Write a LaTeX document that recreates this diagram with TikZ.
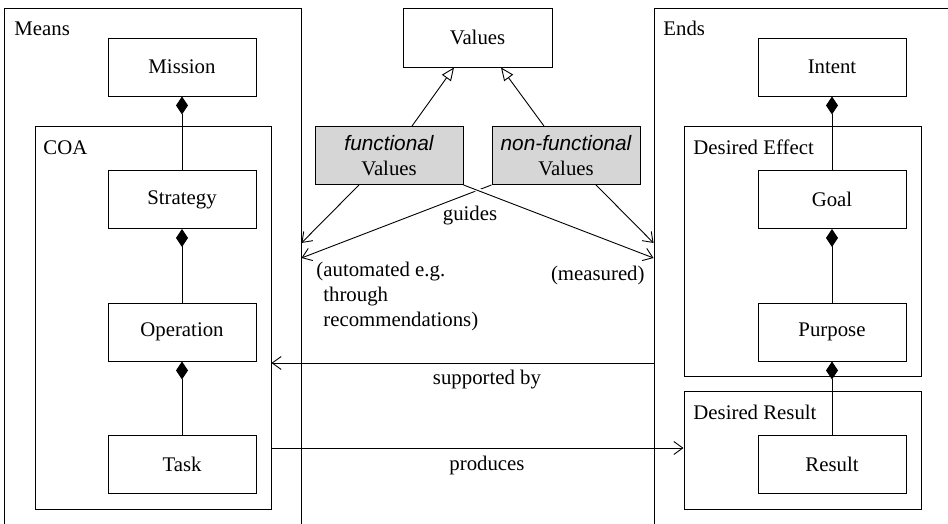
\documentclass[tikz,border=0pt]{standalone}
\usepackage{fontspec}
\setmainfont{Liberation Serif}
\newfontfamily\uisans{Liberation Sans}
\usetikzlibrary{arrows.meta,% arrow tips (diamond, open triangle, barb)
shapes}
\tikzset{every node/.style={font=\fontsize{20.8}{25}\selectfont}}
\definecolor{valgray}{RGB}{214,214,214}

\begin{document}
\begin{tikzpicture}[x=1pt,y=-1pt,line width=0.9pt,
  box/.style={draw, minimum width=148pt, minimum height=58pt, inner sep=0pt},
  valbox/.style={box, fill=valgray, align=center},
  frame/.style={draw, inner sep=0pt},
  lbl/.style={anchor=base west, inner sep=0pt},
  comp/.style={{Diamond[length=18pt,width=12pt]}-},
  isa/.style={-{Triangle[open,length=13pt,width=11pt]}},
  assoc/.style={-{Straight Barb[length=9pt,width=13pt]}}]
  \useasboundingbox (0,0) rectangle (948,524);
  % containers
  \node[frame, minimum width=297pt, minimum height=522pt] (means) at (152.5,269) {};
  \node[frame, minimum width=236pt, minimum height=383pt] (coa) at (153,317.5) {};
  \node[frame, minimum width=306pt, minimum height=522pt] (ends) at (807,269) {};
  \node[frame, minimum width=237pt, minimum height=250pt] (deseffect) at (802.5,251) {};
  \node[frame, minimum width=237pt, minimum height=118pt] (desresult) at (802.5,450) {};
  \node[lbl] (meanslbl) at (14,36) {Means};
  \node[lbl] (coalbl) at (43,154) {COA};
  \node[lbl] (endslbl) at (663,36) {Ends};
  \node[lbl] (deseffectlbl) at (693,154) {Desired Effect};
  \node[lbl] (desresultlbl) at (693,419) {Desired Result};
  % the two chains of parts
  \foreach \name/\txt/\y in {mission/Mission/67, strategy/Strategy/199.5,
      operation/Operation/332, task/Task/464.5}
    \node[box] (\name) at (182,\y) {\txt};
  \foreach \name/\txt/\y in {intent/Intent/67, goal/Goal/199.5,
      purpose/Purpose/332, result/Result/464.5}
    \node[box] (\name) at (832,\y) {\txt};
  \foreach \a/\b in {mission/strategy, strategy/operation, operation/task,
      intent/goal, goal/purpose, purpose/result}
    \draw[comp] (\a) -- (\b);
  % values
  \node[box, minimum width=149pt, minimum height=59pt] (values) at (477.5,37.5) {Values};
  \node[valbox] (func) at (389,155.5) {{\uisans\itshape functional}\\Values};
  \node[valbox] (nonfunc) at (566,155.5) {{\uisans\itshape non-functional}\\Values};
  \draw[isa] ([xshift=23pt]func.north) -- ([xshift=-23.5pt]values.south);
  \draw[isa] ([xshift=-22pt]nonfunc.north) -- ([xshift=23.5pt]values.south);
  % guides
  \coordinate (meansup) at (means.east |- 0,243);
  \coordinate (meanslow) at (means.east |- 0,258);
  \coordinate (endsup) at (ends.west |- 0,243);
  \coordinate (endslow) at (ends.west |- 0,258);
  \draw[assoc] ([xshift=-30pt]func.south) -- (meansup);
  \draw[assoc] (nonfunc.south west) -- (meanslow);
  \draw[white, line width=4pt] (472,188) -- (483,192.2);
  \draw[assoc] (func.south east) -- (endslow);
  \draw[assoc] ([xshift=30pt]nonfunc.south) -- (endsup);
  \node (guides) at (470,216) {guides};
  \node[anchor=north west, inner sep=0pt, align=left] (autolbl) at (316,262)
    {(automated e.g.\\\phantom{(}through\\\phantom{(}recommendations)};
  \node[anchor=east, inner sep=0pt] (measlbl) at (645,275) {(measured)};
  % means and ends
  \coordinate (supfrom) at (ends.west |- 0,363);
  \coordinate (supto) at (coa.east |- 0,363);
  \draw[assoc] (supfrom) -- (supto);
  \node (suplbl) at (487,380) {supported by};
  \coordinate (prodfrom) at (coa.east |- 0,448);
  \coordinate (prodto) at (desresult.west |- 0,448);
  \draw[assoc] (prodfrom) -- (prodto);
  \node (prodlbl) at (487,465) {produces};
\end{tikzpicture}
\end{document}
